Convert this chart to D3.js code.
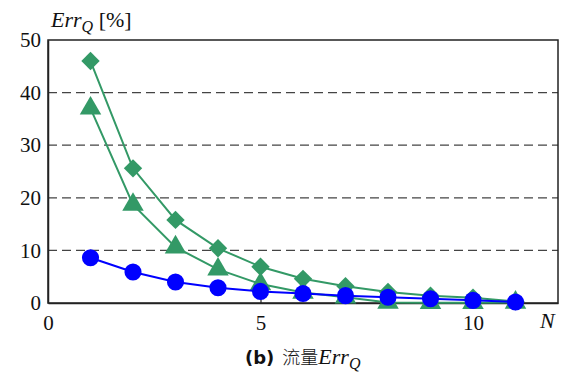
<!DOCTYPE html>
<html><head><meta charset="utf-8">
<script src="https://cdn.jsdelivr.net/npm/d3@7"></script>
<style>body{margin:0;background:#fff}svg{display:block}</style>
</head><body>
<script>
const N = [1,2,3,4,5,6,7,8,9,10,11];
const diamondSeries = [46.0,25.6,15.8,10.4,6.9,4.6,3.2,2.1,1.4,1.0,0.3];
const triangleSeries = [37.0,18.7,10.6,6.4,3.6,2.0,1.1,0.1,0.05,0.05,0.1];
const circleSeries = [8.6,5.9,4.0,2.9,2.2,1.8,1.4,1.1,0.8,0.5,0.2];
const yTicks = [0,10,20,30,40,50];
const xTicks = [0,5,10];

const W=561,H=374;
const SERIF="Liberation Serif, Times New Roman, serif";
const svg=d3.select("body").append("svg").attr("width",W).attr("height",H)
  .attr("font-family",SERIF);
const x=d3.scaleLinear().domain([0,12]).range([48,558]);
const y=d3.scaleLinear().domain([0,50]).range([303,40]);
const green="#339966", blue="#0000ff";

// gridlines
svg.append("g").selectAll("line").data(yTicks.filter(d=>d>0&&d<50)).join("line")
  .attr("x1",x(0)).attr("x2",x(12)).attr("y1",d=>y(d)).attr("y2",d=>y(d))
  .attr("stroke","#444").attr("stroke-width",1.2).attr("stroke-dasharray","9,5");

// frame
svg.append("rect").attr("x",x(0)).attr("y",y(50)).attr("width",x(12)-x(0)).attr("height",y(0)-y(50))
  .attr("fill","none").attr("stroke","#222").attr("stroke-width",1.5);

// axes
const xAxis=d3.axisBottom(x).tickValues(xTicks).tickSizeInner(-6).tickSizeOuter(0).tickPadding(12);
const gx=svg.append("g").attr("transform",`translate(0,${y(0)})`).call(xAxis)
  .attr("font-family",SERIF).attr("font-size",21);
gx.select(".domain").attr("stroke","#222").attr("stroke-width",1.5);
gx.selectAll(".tick line").attr("stroke","#222").attr("stroke-width",1.2);
gx.selectAll("text").attr("fill","#111");
gx.selectAll(".tick").filter(d=>d===0).select("line").remove();

const yAxis=d3.axisLeft(y).tickValues(yTicks).tickSize(0).tickPadding(7);
const gy=svg.append("g").attr("transform",`translate(${x(0)},0)`).call(yAxis)
  .attr("font-family",SERIF).attr("font-size",21);
gy.select(".domain").attr("stroke","#222").attr("stroke-width",1.5);
gy.selectAll("text").attr("fill","#111");

const line=d3.line().x((d,i)=>x(N[i])).y(d=>y(d));

function series(data,color,shape,size){
  svg.append("path").datum(data).attr("d",line).attr("fill","none").attr("stroke",color).attr("stroke-width",2);
  svg.append("g").selectAll("path").data(data).join("path")
    .attr("transform",(d,i)=>`translate(${x(N[i])},${y(d)})`)
    .attr("d",d3.symbol().type(shape).size(size))
    .attr("fill",color);
}
const diamondShape={draw(ctx,size){const r=Math.sqrt(size)/1.4;ctx.moveTo(0,-r);ctx.lineTo(r,0);ctx.lineTo(0,r);ctx.lineTo(-r,0);ctx.closePath();}};
series(diamondSeries,green,diamondShape,165);
series(triangleSeries,green,d3.symbolTriangle,200);
series(circleSeries,blue,d3.symbolCircle,230);

// labels
const yl=svg.append("text").attr("x",51).attr("y",27).attr("font-family",SERIF).attr("font-size",22).attr("fill","#111");
yl.append("tspan").attr("font-style","italic").text("Err");
yl.append("tspan").attr("font-style","italic").attr("font-size",16).attr("dy",5).text("Q");
yl.append("tspan").attr("dy",-5).text(" [%]");

svg.append("text").attr("x",540).attr("y",328).attr("font-family",SERIF).attr("font-style","italic").attr("font-size",22).attr("fill","#111").text("N");

const cap=svg.append("text").attr("x",245).attr("y",364).attr("font-size",18).attr("fill","#111");
cap.append("tspan").attr("font-family","DejaVu Sans").attr("font-weight","bold").text("(b)");
cap.append("tspan").attr("font-family","Noto Sans CJK SC").attr("font-weight","300").attr("dx",8).text("流量");
cap.append("tspan").attr("font-family",SERIF).attr("font-style","italic").attr("font-size",22).text("Err");
cap.append("tspan").attr("font-family",SERIF).attr("font-style","italic").attr("font-size",16).attr("dy",5).text("Q");
</script>
</body></html>
